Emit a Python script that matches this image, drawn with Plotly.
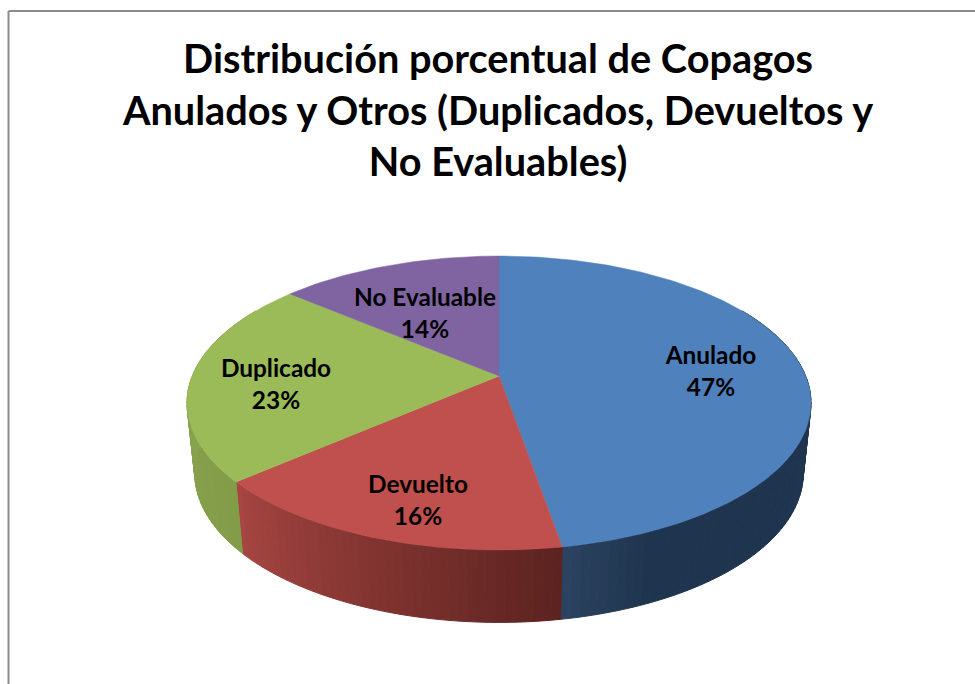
import math
import plotly.graph_objects as go

# ---- data ----
categories = ["Anulado", "Devuelto", "Duplicado", "No Evaluable"]
values = [47.3, 16.3, 22.6, 13.8]
top_colors = ["#4F81BD", "#C0504D", "#9BBB59", "#8064A2"]
# wall shading, from the first to the last angle of each visible wall
wall_from = [(31, 52, 78), (92, 35, 32), (130, 156, 72), (130, 156, 72)]
wall_to = [(44, 68, 98), (168, 70, 66), (142, 168, 82), (130, 156, 72)]
label_x = [711, 418, 276, 425]
name_y = [358, 487, 371, 300]
pct_y = [390, 519, 403, 332]

# ---- perspective disc ----
CX, APEX_Y, A, B, K = 499.0, 376.0, 306.7, 142.0, 0.1837
BASE_SCALE, BASE_Y, BASE_B = 0.975, 446.0, 144.0
STEP = 1.5


def rim(theta, cy=APEX_Y, a=A, b=B):
    t = math.radians(theta)
    x, y = math.sin(t), math.cos(t)
    w = 1 + K * y
    return CX + a * x / w, cy - b * y / w


def angles(start, end, step=STEP):
    n = max(1, int(math.ceil((end - start) / step)))
    return [start + (end - start) * i / n for i in range(n + 1)]


total = sum(values)
edges = [0.0]
for v in values:
    edges.append(edges[-1] + 360.0 * v / total)

fig = go.Figure()

# side wall (front part only; the back part is covered by the top)
WALL_START, WALL_END = 60.0, 300.0
for i, name in enumerate(categories):
    lo, hi = max(edges[i], WALL_START), min(edges[i + 1], WALL_END)
    if hi <= lo:
        continue
    ang = angles(lo, hi)
    for a0, a1 in zip(ang[:-1], ang[1:]):
        if i == 0:
            f = max(0.0, (a0 - 155.0) / (hi - 155.0))
        else:
            f = (a0 - lo) / (hi - lo)
        c = [round(p + (q - p) * f) for p, q in zip(wall_from[i], wall_to[i])]
        col = f"rgb({c[0]},{c[1]},{c[2]})"
        p0, p1 = rim(a0), rim(a1)
        q0 = rim(a0, BASE_Y, A * BASE_SCALE, BASE_B)
        q1 = rim(a1, BASE_Y, A * BASE_SCALE, BASE_B)
        fig.add_trace(go.Scatter(
            x=[p0[0], p1[0], q1[0], q0[0], p0[0]],
            y=[p0[1], p1[1], q1[1], q0[1], p0[1]],
            mode="lines", fill="toself", fillcolor=col,
            line=dict(color=col, width=1), hoverinfo="skip", showlegend=False))

# top of the pie
for i, name in enumerate(categories):
    pts = [rim(t) for t in angles(edges[i], edges[i + 1], 1.0)]
    xs = [CX] + [p[0] for p in pts] + [CX]
    ys = [APEX_Y] + [p[1] for p in pts] + [APEX_Y]
    fig.add_trace(go.Scatter(
        x=xs, y=ys, mode="lines", fill="toself", fillcolor=top_colors[i],
        line=dict(color=top_colors[i], width=0.5), name=name,
        hoverinfo="name", showlegend=False))

# labels
LABEL_FONT = dict(family="Lato, Carlito, sans-serif", size=24.4, color="#000000", weight="bold")
fig.add_trace(go.Scatter(x=label_x, y=name_y, mode="text", text=categories,
                         textfont=LABEL_FONT, textposition="middle center",
                         hoverinfo="skip", showlegend=False))
fig.add_trace(go.Scatter(x=label_x, y=pct_y, mode="text",
                         text=[f"{round(100 * v / total)}%" for v in values],
                         textfont=LABEL_FONT, textposition="middle center",
                         hoverinfo="skip", showlegend=False))

fig.update_layout(
    width=975, height=684, autosize=False,
    margin=dict(l=0, r=0, t=0, b=0),
    paper_bgcolor="#FFFFFF", plot_bgcolor="#FFFFFF",
    showlegend=False,
    title=dict(
        text="<b>Distribución porcentual de Copagos<br>Anulados y Otros (Duplicados, Devueltos y<br>No Evaluables)</b>",
        font=dict(family="Lato, Carlito, sans-serif", size=39.7, color="#000000"),
        x=0.5108, xanchor="center", y=0.893, yanchor="top"),
    xaxis=dict(range=[0, 975], visible=False, fixedrange=True),
    yaxis=dict(range=[684, 0], visible=False, fixedrange=True),
    shapes=[
        dict(type="line", xref="x", yref="y", x0=8.5, x1=975, y0=11, y1=11,
             line=dict(color="#8C8C8C", width=2)),
        dict(type="line", xref="x", yref="y", x0=8.5, x1=8.5, y0=11, y1=684,
             line=dict(color="#8C8C8C", width=2)),
    ],
)
fig.write_html("out.html", post_script="document.body.style.margin='0';document.documentElement.style.overflow='hidden';",
               config={"displayModeBar": False})
